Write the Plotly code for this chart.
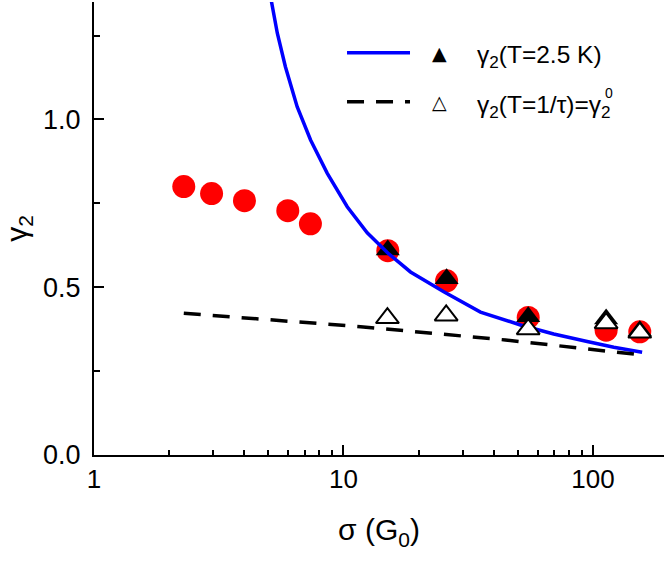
import numpy as np
import plotly.graph_objects as go

# pontos vermelhos (circulos)
sigma_red = [2.29, 2.96, 4.01, 5.98, 7.37, 15.05, 25.9, 55.0, 112.9, 154.0]
gamma_red = [0.800, 0.779, 0.758, 0.728, 0.689, 0.609, 0.519, 0.410, 0.372, 0.367]

# gamma2 (T=2.5 K) - triangulos cheios
sigma_t25 = [15.05, 25.9, 55.0, 112.9, 154.0]
gamma_t25 = [0.611, 0.525, 0.412, 0.405, 0.370]

# gamma2 (T=1/tau) - triangulos abertos
sigma_t0 = [15.0, 25.8, 55.0, 112.9, 154.0]
gamma_t0 = [0.408, 0.416, 0.375, 0.393, 0.365]

# curva azul
sigma_fit = [5.13, 5.43, 5.85, 6.52, 7.38, 8.60, 10.35, 12.45, 15.05, 18.56,
             25.23, 35.4, 51.2, 69.6, 94.8, 121.2, 157.4]
gamma_fit = [1.356, 1.257, 1.157, 1.038, 0.939, 0.840, 0.740, 0.662, 0.602, 0.5455,
             0.4866, 0.426, 0.3875, 0.3607, 0.3383, 0.321, 0.306]

# curva tracejada
sigma_dash = [2.29, 5.10, 11.70, 44.6, 157.4]
gamma_dash = [0.4224, 0.4024, 0.3824, 0.3428, 0.2981]

x_ticks = [1, 10, 100]
x_ticktext = ["1", "10", "100"]
y_ticks = [0, 0.5, 1.0]
y_ticktext = ["0.0", "0.5", "1.0"]

FONT = "Arial, Liberation Sans, sans-serif"

fig = go.Figure()

fig.add_trace(go.Scatter(x=sigma_red, y=gamma_red, mode="markers",
                         marker=dict(symbol="circle", size=23, color="#ff0000", line=dict(width=0))))
fig.add_trace(go.Scatter(x=sigma_t25, y=gamma_t25, mode="markers",
                         marker=dict(symbol="triangle-up", size=21, color="black", line=dict(width=0))))
fig.add_trace(go.Scatter(x=sigma_fit, y=gamma_fit, mode="lines",
                         line=dict(color="#0000ff", width=3.5)))
fig.add_trace(go.Scatter(x=sigma_dash, y=gamma_dash, mode="lines",
                         line=dict(color="black", width=3.5, dash="17px,12px")))
fig.add_trace(go.Scatter(x=sigma_t0, y=gamma_t0, mode="markers",
                         marker=dict(symbol="triangle-up", size=20, color="white",
                                     line=dict(width=2, color="black"))))

# legenda feita a mao (estilo Origin)
x0_leg, x1_leg = 0.4439, 0.5544
y_row1, y_row2 = 0.888, 0.780
fig.add_shape(type="line", xref="paper", yref="paper", x0=x0_leg, x1=x1_leg, y0=y_row1, y1=y_row1,
              line=dict(color="#0000ff", width=3.5))
fig.add_shape(type="line", xref="paper", yref="paper", x0=x0_leg, x1=x1_leg, y0=y_row2, y1=y_row2,
              line=dict(color="black", width=3.5, dash="17px,12px"))
fig.add_annotation(x=0.607, y=y_row1, xref="paper", yref="paper", text="▲", showarrow=False,
                   xanchor="center", yanchor="middle",
                   font=dict(family="DejaVu Sans", size=19, color="black"))
fig.add_annotation(x=0.607, y=y_row2, xref="paper", yref="paper", text="△", showarrow=False,
                   xanchor="center", yanchor="middle",
                   font=dict(family="DejaVu Sans", size=19, color="black"))
fig.add_annotation(x=0.668, y=0.8786, xref="paper", yref="paper", xanchor="left", yanchor="middle",
                   text="γ<sub>2</sub>(T=2.5 K)", showarrow=False,
                   font=dict(family=FONT, size=24.5, color="black"))
fig.add_annotation(x=0.668, y=0.7704, xref="paper", yref="paper", xanchor="left", yanchor="middle",
                   text="γ<sub>2</sub>(T=1/τ)=γ<sub>2</sub>", showarrow=False,
                   font=dict(family=FONT, size=24.5, color="black"))
fig.add_annotation(x=0.9035, y=0.7985, xref="paper", yref="paper", xanchor="center", yanchor="middle",
                   text="0", showarrow=False,
                   font=dict(family=FONT, size=14, color="black"))

fig.update_layout(
    width=664, height=563,
    margin=dict(l=94, r=0, t=2, b=108),
    plot_bgcolor="white", paper_bgcolor="white",
    showlegend=False,
    font=dict(family=FONT, color="black"),
)
fig.update_xaxes(
    type="log", range=[0, np.log10(192.6)], automargin=False,
    showline=True, linewidth=2, linecolor="black",
    showgrid=False, zeroline=False,
    ticks="inside", ticklen=10, tickwidth=2, tickcolor="black",
    tickvals=x_ticks, ticktext=x_ticktext,
    tickfont=dict(size=26), ticklabelstandoff=0,
    minor=dict(ticks="inside", ticklen=5, tickwidth=2, tickcolor="black",
               tickvals=[2, 3, 4, 5, 6, 7, 8, 9, 20, 30, 40, 50, 60, 70, 80, 90], showgrid=False),
    title=dict(text="σ (G<sub>0</sub>)", font=dict(size=30), standoff=26),
)
fig.update_yaxes(
    range=[0, 1.35], automargin=False,
    showline=True, linewidth=2, linecolor="black",
    showgrid=False, zeroline=False,
    ticks="inside", ticklen=10, tickwidth=2, tickcolor="black",
    tickvals=y_ticks, ticktext=y_ticktext,
    tickfont=dict(size=27), ticklabelstandoff=6,
    minor=dict(ticks="inside", ticklen=6, tickwidth=2, tickcolor="black",
               tickvals=[0.25, 0.75, 1.25], showgrid=False),
    title=dict(text="γ<sub>2</sub>", font=dict(size=30), standoff=10),
)

# tira a margem padrao do body para o grafico ficar no canto
fig.write_html("out.html", config={"displayModeBar": False},
               post_script="document.body.style.margin='0';")
